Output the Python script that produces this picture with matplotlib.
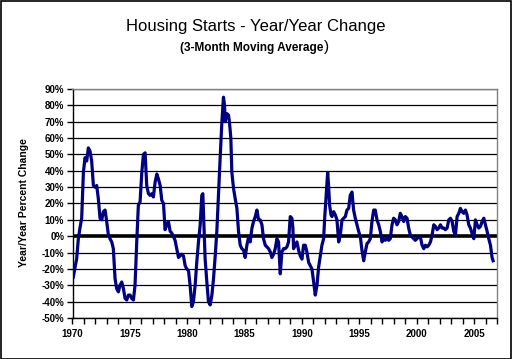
import matplotlib
matplotlib.use("Agg")
import matplotlib.pyplot as plt
from matplotlib.patches import Rectangle
from matplotlib.ticker import MultipleLocator, FuncFormatter

# Decimal year / Year-over-year % change (3-month moving average)
years = [
    1970.07, 1970.22, 1970.36, 1970.51, 1970.65, 1970.80, 1970.95, 1971.09, 1971.24, 1971.38,
    1971.53, 1971.67, 1971.82, 1971.96, 1972.11, 1972.25, 1972.40, 1972.55, 1972.69, 1972.84,
    1972.98, 1973.13, 1973.27, 1973.42, 1973.56, 1973.71, 1973.85, 1974.00, 1974.14, 1974.29,
    1974.44, 1974.58, 1974.73, 1974.87, 1975.02, 1975.16, 1975.31, 1975.45, 1975.60, 1975.74,
    1975.89, 1976.04, 1976.18, 1976.33, 1976.47, 1976.62, 1976.76, 1976.91, 1977.05, 1977.20,
    1977.35, 1977.49, 1977.64, 1977.78, 1977.93, 1978.07, 1978.22, 1978.36, 1978.51, 1978.65,
    1978.80, 1978.94, 1979.09, 1979.24, 1979.38, 1979.53, 1979.67, 1979.82, 1979.96, 1980.11,
    1980.25, 1980.40, 1980.54, 1980.69, 1980.83, 1980.98, 1981.13, 1981.27, 1981.36, 1981.47,
    1981.56, 1981.71, 1981.85,
    1982.00, 1982.15, 1982.29, 1982.44, 1982.58, 1982.73, 1982.87, 1983.02, 1983.16, 1983.25,
    1983.31, 1983.45, 1983.60, 1983.69, 1983.80, 1983.89, 1984.04, 1984.18, 1984.33, 1984.47,
    1984.62, 1984.76, 1984.91, 1985.05, 1985.20, 1985.35, 1985.49, 1985.64, 1985.78, 1985.93,
    1986.07, 1986.22, 1986.36, 1986.51, 1986.65, 1986.80, 1986.94, 1987.09, 1987.24, 1987.38,
    1987.53, 1987.67, 1987.82, 1987.96,
    1988.11, 1988.25, 1988.40, 1988.54, 1988.69, 1988.83, 1988.98, 1989.12, 1989.21, 1989.27,
    1989.42, 1989.56, 1989.71, 1989.85, 1990.00, 1990.14, 1990.29, 1990.43, 1990.58, 1990.72,
    1990.87, 1991.02, 1991.16, 1991.31, 1991.45, 1991.60, 1991.74, 1991.89, 1991.98, 1992.09,
    1992.24, 1992.32, 1992.41, 1992.53, 1992.62, 1992.76, 1992.91, 1993.05, 1993.20, 1993.34,
    1993.49, 1993.63, 1993.78, 1993.92, 1994.07,
    1994.21, 1994.36, 1994.50, 1994.65, 1994.80, 1994.94, 1995.09, 1995.23, 1995.38, 1995.52,
    1995.67, 1995.81, 1995.96, 1996.10, 1996.25, 1996.39, 1996.54, 1996.69, 1996.83, 1996.98,
    1997.12, 1997.27, 1997.41, 1997.56, 1997.70, 1997.85, 1997.99, 1998.14, 1998.28, 1998.43,
    1998.57, 1998.72, 1998.87, 1999.01, 1999.16, 1999.30, 1999.45, 1999.59, 1999.74, 1999.88,
    2000.03, 2000.17,
    2000.32, 2000.47, 2000.62, 2000.76, 2000.91, 2001.05, 2001.20, 2001.34, 2001.49, 2001.63,
    2001.78, 2001.92, 2002.07, 2002.21, 2002.36, 2002.50, 2002.65, 2002.80, 2002.94, 2003.09,
    2003.23, 2003.38, 2003.52, 2003.67, 2003.81, 2003.96, 2004.10, 2004.25, 2004.39, 2004.54,
    2004.68, 2004.83, 2004.98, 2005.12, 2005.27, 2005.41, 2005.56, 2005.70, 2005.85, 2005.99,
    2006.14, 2006.28, 2006.43, 2006.57, 2006.66,
]

pct_change = [
    -25, -19, -14, -1.5, 5, 11, 39, 48, 46, 54,
    52, 46, 31, 30, 31, 23, 11, 10, 15, 16,
    9, 0.6, -1.5, -3.5, -7.6, -26, -32, -34, -30, -28,
    -32, -38, -39, -36, -36, -38, -39, -30, -3.5, 19,
    21, 39, 50, 51, 31, 26, 25, 26, 24, 33,
    38, 35, 31, 22, 20, 4, 7, 9, 3, 2,
    -0.4, -2.5, -7.6, -13, -12, -11, -12, -18, -20, -21,
    -30, -43, -40, -30, -16, -3.5, 7, 25, 26, 3,
    -14, -28, -40,
    -42, -36, -26, -12, 3, 27, 48, 70, 85, 80,
    70, 75, 74, 69, 60, 39, 29, 23, 17, 3,
    -5.5, -7.6, -8.6, -13, -5.5, -0.4, -3.5, 5, 9, 12,
    16, 10, 10, 7, -1.5, -5.5, -6.5, -7.6, -9.6, -13,
    -11, -7.6, -1.5, -3.5,
    -23, -9.6, -7.6, -7.6, -6.5, -3.5, 12, 11, 5, -7.6,
    -5.5, -3.5, -8.6, -12, -14, -5.5, -5.5, -9.6, -16, -18,
    -20, -28, -36, -30, -19, -12, -5.5, -1.5, 11, 23,
    39, 31, 19, 13, 12, 15, 13, 10, -3.5, 0.6,
    10, 11, 12, 16, 17,
    25, 27, 16, 11, 7, 3, -0.4, -8.6, -15, -9.6,
    -4.5, -3.5, -1.5, 9, 16, 16, 10, 7, 3, -3.5,
    -1.5, -2.5, -0.4, -2.5, -1.5, 7, 11, 10, 7, 9,
    14, 12, 9, 12, 11, 5, 0.6, -0.4, -1.5, -2.5,
    -1.5, -0.4,
    -0.4, -5.5, -7.6, -5.5, -6.5, -5.5, -3.5, 0.6, 7, 6,
    4, 5, 7, 5, 5, 4, 5, 10, 11, 9,
    3, 0.6, 12, 14, 17, 15, 14, 16, 13, 7,
    5, 1.6, -1.5, 10, 7, 5, 6, 9, 11, 7,
    3, -1.5, -5.5, -13, -15,
]

title = "Housing Starts - Year/Year Change"
subtitle = "(3-Month Moving Average"
ylabel = "Year/Year Percent Change"

W, H, DPI = 512, 359, 100
fig = plt.figure(figsize=(W / DPI, H / DPI), dpi=DPI)
fig.patch.set_facecolor("white")

left, right, top, bottom = 72.5, 497, 89, 318
ax = fig.add_axes([left / W, 1 - bottom / H, (right - left) / W, (bottom - top) / H])

ax.set_xlim(1970, 2007)
ax.set_ylim(-50, 90)

for v in range(-50, 91, 10):
    if v == 0:
        continue
    ax.axhline(v, color="black", lw=0.9, zorder=1)
ax.axhline(0, color="black", lw=2.6, zorder=2)

ax.plot(years, pct_change, color="#000080", lw=2.3, zorder=3, solid_joinstyle="round")

for s in ("top", "right"):
    ax.spines[s].set_color("#808080")
    ax.spines[s].set_linewidth(1.0)
for s in ("left", "bottom"):
    ax.spines[s].set_color("black")
    ax.spines[s].set_linewidth(1.0)

ax.yaxis.set_major_locator(MultipleLocator(10))
ax.yaxis.set_major_formatter(FuncFormatter(lambda v, p: f"{int(round(v))}%"))
ax.xaxis.set_major_locator(MultipleLocator(5))
ax.xaxis.set_minor_locator(MultipleLocator(1))
ax.xaxis.set_major_formatter(FuncFormatter(lambda v, p: f"{int(round(v))}"))

ax.tick_params(axis="y", which="major", direction="out", length=4, width=1,
               labelsize=7, pad=2)
ax.tick_params(axis="x", which="both", direction="out", length=4, width=1,
               labelsize=7, pad=4)
for lab in ax.get_xticklabels() + ax.get_yticklabels():
    lab.set_fontweight("bold")
    lab.set_fontfamily("Liberation Sans")

fig.text(24 / W, 1 - 203 / H, ylabel, rotation=90, ha="center", va="center",
         fontsize=7.5, fontweight="bold", family="Liberation Sans")

fig.text(256 / W, 1 - 26 / H, title, ha="center", va="center",
         fontsize=12, family="Liberation Sans")
t = fig.text(252 / W, 1 - 48 / H, subtitle, ha="center", va="center",
             fontsize=8.5, fontweight="bold", family="Liberation Sans")
fig.canvas.draw()
bb = t.get_window_extent()
fig.text((bb.x1 + 0.5) / W, 1 - 47 / H, ")", ha="left", va="center",
         fontsize=11, family="Liberation Sans")

fig.add_artist(Rectangle((0.5 / W, 0.5 / H), 1 - 1.5 / W, 1 - 1.5 / H,
                         transform=fig.transFigure, fill=False,
                         edgecolor="black", lw=1.2))

fig.savefig("out.png", dpi=DPI, facecolor="white")
